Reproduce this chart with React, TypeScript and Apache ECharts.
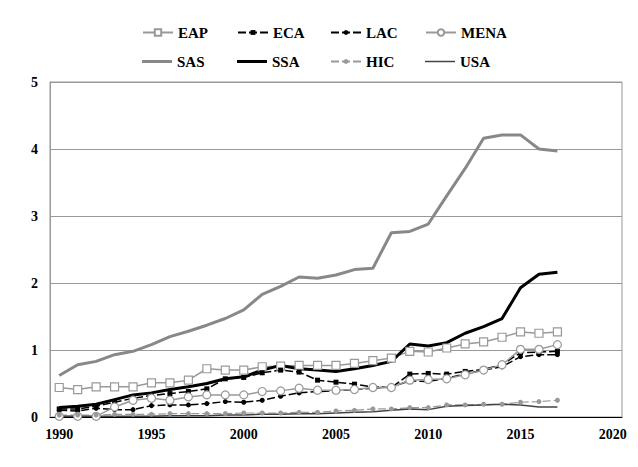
import React, { useEffect, useRef } from 'react'
import * as echarts from 'echarts'

const years = Array.from({ length: 31 }, (_, i) => String(1990 + i))

const eap = [0.44, 0.41, 0.45, 0.45, 0.45, 0.51, 0.51, 0.55, 0.72, 0.7, 0.7, 0.75, 0.76, 0.77, 0.77, 0.77, 0.8, 0.84, 0.88, 0.98, 0.97, 1.03, 1.09, 1.12, 1.19, 1.27, 1.25, 1.27]
const eca = [0.12, 0.12, 0.16, 0.22, 0.28, 0.32, 0.35, 0.38, 0.42, 0.57, 0.59, 0.66, 0.7, 0.67, 0.55, 0.52, 0.49, 0.45, 0.44, 0.64, 0.65, 0.64, 0.68, 0.71, 0.78, 0.96, 0.97, 0.98]
const lac = [0.1, 0.09, 0.13, 0.11, 0.11, 0.17, 0.18, 0.18, 0.2, 0.23, 0.22, 0.25, 0.31, 0.36, 0.38, 0.39, 0.41, 0.43, 0.45, 0.54, 0.53, 0.58, 0.64, 0.7, 0.75, 0.9, 0.93, 0.93]
const mena = [0.01, 0.01, 0.01, 0.15, 0.25, 0.28, 0.25, 0.3, 0.33, 0.33, 0.33, 0.38, 0.39, 0.43, 0.4, 0.4, 0.41, 0.44, 0.44, 0.55, 0.56, 0.57, 0.63, 0.7, 0.78, 1.01, 1.01, 1.08]
const sas = [0.62, 0.78, 0.83, 0.93, 0.98, 1.08, 1.2, 1.28, 1.37, 1.47, 1.6, 1.83, 1.95, 2.09, 2.07, 2.12, 2.2, 2.22, 2.75, 2.77, 2.88, 3.3, 3.71, 4.16, 4.21, 4.21, 4.0, 3.97]
const ssa = [0.14, 0.16, 0.19, 0.26, 0.33, 0.36, 0.41, 0.45, 0.5, 0.57, 0.6, 0.7, 0.77, 0.72, 0.7, 0.68, 0.72, 0.77, 0.83, 1.09, 1.06, 1.11, 1.25, 1.35, 1.47, 1.93, 2.13, 2.16]
const hic = [0.03, 0.03, 0.03, 0.04, 0.04, 0.04, 0.05, 0.05, 0.05, 0.05, 0.06, 0.06, 0.06, 0.07, 0.07, 0.09, 0.1, 0.12, 0.12, 0.14, 0.14, 0.18, 0.18, 0.19, 0.19, 0.22, 0.23, 0.25]
const usa = [0.01, 0.01, 0.01, 0.01, 0.01, 0.01, 0.02, 0.02, 0.02, 0.03, 0.03, 0.04, 0.04, 0.05, 0.05, 0.06, 0.07, 0.08, 0.1, 0.12, 0.11, 0.16, 0.17, 0.18, 0.19, 0.18, 0.15, 0.15]

// legend layout: two rows of four
const legendRow1 = ['EAP', 'ECA', 'LAC', 'MENA']
const legendRow2 = ['SAS', 'SSA', 'HIC', 'USA']

const FONT = '"Liberation Serif", "Times New Roman", serif'

// plain line icons for the series without markers (bounds kept by the two moveTo's)
const thickLine = 'path://M0,0M30,10M0,3.5H30V6.5H0Z'
const thinLine = 'path://M0,0M30,10M0,4.25H30V5.75H0Z'
const lineIcons: Record<string, string> = { SAS: thickLine, SSA: thickLine, USA: thinLine }
// legend marker size follows itemHeight
const markerHeight: Record<string, number> = { EAP: 8, MENA: 8, ECA: 6, LAC: 6, HIC: 6 }

const App = function () {
  const chartDom = useRef<HTMLDivElement>(null)

  useEffect(() => {
    const chart = echarts.init(chartDom.current!, null, { renderer: 'svg' })

    const colLeft = [137, 232, 325, 420]
    const rowTop = [20, 49]
    const legends: any[] = []
    ;[legendRow1, legendRow2].forEach((row, r) => {
      row.forEach((name, c) => {
        legends.push({
          left: colLeft[c],
          top: rowTop[r],
          itemWidth: 30,
          itemHeight: markerHeight[name] || 10,
          selectedMode: false,
          textStyle: { fontFamily: FONT, fontWeight: 'bold', fontSize: 15, color: '#000' },
          data: [lineIcons[name] ? { name, icon: lineIcons[name] } : name],
        })
      })
    })

    const option: echarts.EChartsOption = {
      animation: false,
      backgroundColor: '#fff',
      legend: legends,
      grid: { left: 50, right: 16, top: 82, bottom: 50, show: true, borderColor: '#999', borderWidth: 1 },
      xAxis: {
        type: 'category',
        data: years,
        boundaryGap: true,
        axisLine: { lineStyle: { color: '#000', width: 1 } },
        axisTick: { interval: 0, length: 5, lineStyle: { color: '#000' } },
        axisLabel: { interval: 4, margin: 10, fontFamily: FONT, fontWeight: 'bold', fontSize: 14, color: '#000' },
      },
      yAxis: {
        type: 'value',
        min: 0,
        max: 5,
        interval: 1,
        axisLine: { show: true, lineStyle: { color: '#999' } },
        axisTick: { show: false },
        splitLine: { lineStyle: { color: '#999', width: 1 } },
        axisLabel: { margin: 12, fontFamily: FONT, fontWeight: 'bold', fontSize: 14, color: '#000' },
      },
      series: [
        {
          name: 'EAP', type: 'line', data: eap, symbol: 'rect', symbolSize: 8,
          lineStyle: { color: '#999', width: 1.5 },
          itemStyle: { color: '#fff', borderColor: '#999', borderWidth: 1.2 },
        },
        {
          name: 'ECA', type: 'line', data: eca, symbol: 'rect', symbolSize: 5,
          lineStyle: { color: '#000', width: 1.5, type: [8, 3] },
          itemStyle: { color: '#000' },
        },
        {
          name: 'LAC', type: 'line', data: lac, symbol: 'circle', symbolSize: 5,
          lineStyle: { color: '#000', width: 1.5, type: [8, 3] },
          itemStyle: { color: '#000' },
        },
        {
          name: 'MENA', type: 'line', data: mena, symbol: 'circle', symbolSize: 8,
          lineStyle: { color: '#999', width: 1.5 },
          itemStyle: { color: '#fff', borderColor: '#999', borderWidth: 1.2 },
        },
        {
          name: 'SAS', type: 'line', data: sas, symbol: 'none',
          lineStyle: { color: '#888', width: 3 },
          itemStyle: { color: '#888' },
        },
        {
          name: 'SSA', type: 'line', data: ssa, symbol: 'none',
          lineStyle: { color: '#000', width: 3 },
          itemStyle: { color: '#000' },
        },
        {
          name: 'HIC', type: 'line', data: hic, symbol: 'circle', symbolSize: 5,
          lineStyle: { color: '#999', width: 1.2, type: [8, 3] },
          itemStyle: { color: '#999' },
        },
        {
          name: 'USA', type: 'line', data: usa, symbol: 'none',
          lineStyle: { color: '#444', width: 1.5 },
          itemStyle: { color: '#444' },
        },
      ],
    }

    chart.setOption(option)

    return () => {
      chart.dispose()
    }
  }, [])

  return (
    <div
      ref={chartDom}
      style={{ position: 'fixed', left: 0, top: 0, width: 638, height: 467 }}
    />
  )
}

export default App
